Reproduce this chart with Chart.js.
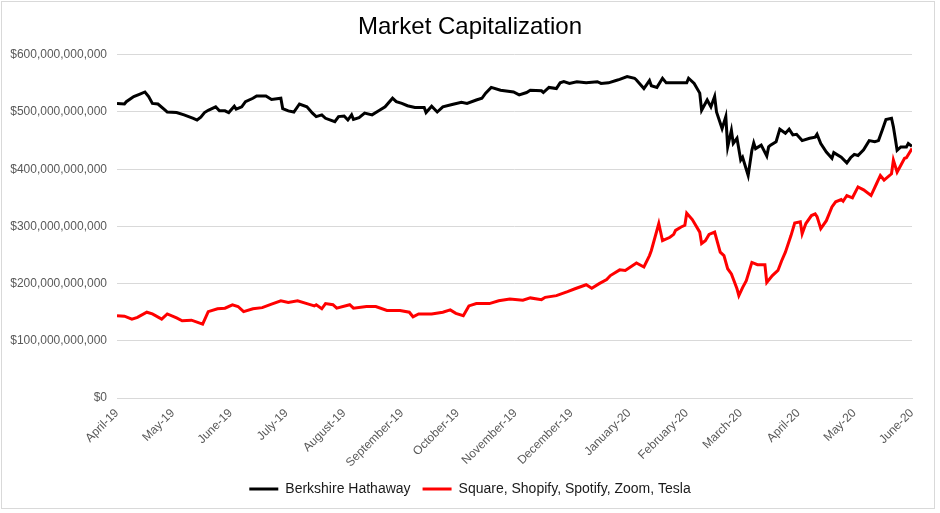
<!DOCTYPE html>
<html>
<head>
<meta charset="utf-8">
<title>Market Capitalization</title>
<script src="https://cdn.jsdelivr.net/npm/chart.js@4.4.1/dist/chart.umd.min.js"></script>
<style>
  html, body { margin: 0; padding: 0; background: #fff; }
  #wrap { position: relative; width: 940px; height: 513px; }
  #frame { position: absolute; left: 1px; top: 1px; width: 932px; height: 506px; border: 1px solid #d9d9d9; pointer-events: none; }
</style>
</head>
<body>
<div id="wrap">
  <canvas id="capChart"></canvas>
  <div id="frame"></div>
</div>
<script>
// month ticks on the x axis
const tickDates = ['2019-04-01', '2019-05-01', '2019-06-01', '2019-07-01', '2019-08-01', '2019-09-01', '2019-10-01',
  '2019-11-01', '2019-12-01', '2020-01-01', '2020-02-01', '2020-03-01', '2020-04-01', '2020-05-01', '2020-06-01'];
const tickLabels = ['April-19', 'May-19', 'June-19', 'July-19', 'August-19', 'September-19', 'October-19',
  'November-19', 'December-19', 'January-20', 'February-20', 'March-20', 'April-20', 'May-20', 'June-20'];

// Berkshire Hathaway market cap, $ billions
const bhDates = ['2019-04-01', '2019-04-05', '2019-04-06', '2019-04-10', '2019-04-13', '2019-04-16', '2019-04-18',
  '2019-04-20', '2019-04-23', '2019-04-27', '2019-04-28', '2019-05-03', '2019-05-07', '2019-05-12', '2019-05-14',
  '2019-05-16', '2019-05-18', '2019-05-20', '2019-05-24', '2019-05-26', '2019-05-29', '2019-05-31', '2019-06-03',
  '2019-06-04', '2019-06-07', '2019-06-09', '2019-06-13', '2019-06-15', '2019-06-20', '2019-06-23', '2019-06-28',
  '2019-06-29', '2019-07-02', '2019-07-05', '2019-07-08', '2019-07-12', '2019-07-15', '2019-07-17', '2019-07-20',
  '2019-07-22', '2019-07-27', '2019-07-29', '2019-08-01', '2019-08-03', '2019-08-05', '2019-08-06', '2019-08-09',
  '2019-08-12', '2019-08-16', '2019-08-20', '2019-08-23', '2019-08-27', '2019-08-29', '2019-09-01', '2019-09-04',
  '2019-09-08', '2019-09-13', '2019-09-14', '2019-09-17', '2019-09-20', '2019-09-23', '2019-09-28', '2019-10-03',
  '2019-10-06', '2019-10-11', '2019-10-14', '2019-10-16', '2019-10-19', '2019-10-24', '2019-10-31', '2019-11-03',
  '2019-11-07', '2019-11-09', '2019-11-15', '2019-11-16', '2019-11-19', '2019-11-23', '2019-11-25', '2019-11-27',
  '2019-11-30', '2019-12-04', '2019-12-09', '2019-12-15', '2019-12-17', '2019-12-21', '2019-12-25', '2019-12-27',
  '2019-12-31', '2020-01-04', '2020-01-05', '2020-01-09', '2020-01-12', '2020-01-13', '2020-01-16', '2020-01-19',
  '2020-01-21', '2020-01-26', '2020-02-01', '2020-02-02', '2020-02-05', '2020-02-08', '2020-02-09', '2020-02-12',
  '2020-02-14', '2020-02-16', '2020-02-17', '2020-02-20', '2020-02-22', '2020-02-23', '2020-02-25', '2020-02-26',
  '2020-02-28', '2020-03-01', '2020-03-02', '2020-03-05', '2020-03-07', '2020-03-08', '2020-03-09', '2020-03-12',
  '2020-03-15', '2020-03-16', '2020-03-17', '2020-03-20', '2020-03-22', '2020-03-25', '2020-03-27', '2020-03-29',
  '2020-03-31', '2020-04-03', '2020-04-07', '2020-04-10', '2020-04-11', '2020-04-13', '2020-04-16', '2020-04-19',
  '2020-04-20', '2020-04-24', '2020-04-27', '2020-04-29', '2020-05-01', '2020-05-03', '2020-05-06', '2020-05-09',
  '2020-05-12', '2020-05-14', '2020-05-16', '2020-05-18', '2020-05-21', '2020-05-22', '2020-05-23', '2020-05-24',
  '2020-05-26', '2020-05-29', '2020-05-30', '2020-06-01'];
const bhCap = [515, 514, 518, 527, 531, 535, 527,
  515, 514, 503, 500, 499, 495, 489, 486,
  491, 499, 503, 509, 502, 502, 499, 510,
  505, 509, 518, 524, 528, 528, 522, 524,
  506, 502, 500, 514, 509, 498, 492, 495,
  489, 483, 492, 493, 486, 495, 487, 490,
  498, 495, 503, 509, 524, 518, 515, 511,
  508, 508, 499, 510, 500, 509, 513, 517,
  515, 521, 524, 533, 543, 538, 535, 530,
  534, 538, 537, 534, 543, 541, 551, 553,
  550, 553, 551, 553, 550, 551, 555, 557,
  562, 559, 556, 541, 555, 546, 543, 559,
  551, 551, 551, 559, 550, 533, 503, 521,
  509, 527, 500, 471, 492, 439, 468, 445,
  454, 416, 421, 389, 433, 446, 436, 442,
  423, 439, 442, 448, 470, 463, 470, 460,
  461, 450, 454, 456, 461, 445, 430, 419,
  429, 421, 411, 420, 426, 424, 434, 450,
  448, 450, 468, 487, 489, 474, 454, 433,
  439, 439, 445, 440];

// Square, Shopify, Spotify, Zoom, Tesla combined market cap, $ billions
const techDates = ['2019-04-01', '2019-04-05', '2019-04-09', '2019-04-12', '2019-04-17', '2019-04-20', '2019-04-25',
  '2019-04-28', '2019-05-03', '2019-05-06', '2019-05-11', '2019-05-17', '2019-05-20', '2019-05-25', '2019-05-29',
  '2019-06-02', '2019-06-05', '2019-06-08', '2019-06-13', '2019-06-18', '2019-06-23', '2019-06-28', '2019-07-02',
  '2019-07-07', '2019-07-12', '2019-07-16', '2019-07-17', '2019-07-20', '2019-07-22', '2019-07-26', '2019-07-28',
  '2019-08-04', '2019-08-06', '2019-08-13', '2019-08-18', '2019-08-24', '2019-08-31', '2019-09-05', '2019-09-07',
  '2019-09-10', '2019-09-17', '2019-09-23', '2019-09-27', '2019-09-30', '2019-10-04', '2019-10-07', '2019-10-11',
  '2019-10-18', '2019-10-23', '2019-10-29', '2019-11-05', '2019-11-09', '2019-11-15', '2019-11-17', '2019-11-23',
  '2019-11-29', '2019-12-03', '2019-12-09', '2019-12-12', '2019-12-16', '2019-12-20', '2019-12-22', '2019-12-27',
  '2019-12-30', '2020-01-05', '2020-01-09', '2020-01-12', '2020-01-13', '2020-01-17', '2020-01-19', '2020-01-23',
  '2020-01-25', '2020-01-26', '2020-01-29', '2020-01-31', '2020-02-01', '2020-02-04', '2020-02-08', '2020-02-09',
  '2020-02-11', '2020-02-13', '2020-02-16', '2020-02-19', '2020-02-21', '2020-02-23', '2020-02-25', '2020-02-28',
  '2020-02-29', '2020-03-02', '2020-03-04', '2020-03-07', '2020-03-10', '2020-03-14', '2020-03-15', '2020-03-18',
  '2020-03-21', '2020-03-23', '2020-03-25', '2020-03-28', '2020-03-30', '2020-04-02', '2020-04-03', '2020-04-05',
  '2020-04-08', '2020-04-10', '2020-04-11', '2020-04-13', '2020-04-16', '2020-04-19', '2020-04-21', '2020-04-24',
  '2020-04-25', '2020-04-27', '2020-04-30', '2020-05-03', '2020-05-06', '2020-05-10', '2020-05-13', '2020-05-15',
  '2020-05-17', '2020-05-21', '2020-05-22', '2020-05-24', '2020-05-26', '2020-05-28', '2020-05-29', '2020-06-01'];
const techCap = [144, 143, 138, 141, 150, 147, 138,
  147, 140, 135, 136, 129, 151, 156, 157,
  163, 160, 151, 156, 158, 164, 170, 167,
  170, 165, 161, 163, 156, 165, 163, 157,
  163, 157, 160, 160, 153, 153, 150, 142,
  147, 147, 150, 154, 148, 144, 161, 165,
  165, 170, 173, 171, 175, 172, 176, 179,
  186, 191, 198, 192, 200, 207, 214, 224,
  223, 236, 229, 249, 258, 305, 275, 281,
  286, 293, 299, 302, 323, 312, 290, 270,
  275, 286, 290, 255, 249, 226, 217, 191,
  179, 193, 205, 237, 233, 233, 202, 214,
  223, 240, 255, 284, 306, 308, 287, 305,
  319, 322, 317, 296, 310, 334, 343, 347,
  344, 354, 350, 369, 364, 354, 375, 389,
  381, 392, 416, 395, 407, 419, 420, 436];

const startDay = Date.UTC(2019, 3, 1);
function dayOffset(s) {
  const p = s.split('-').map(Number);
  return (Date.UTC(p[0], p[1] - 1, p[2]) - startDay) / 86400000;
}
function toPoints(dates, values) {
  return dates.map((d, i) => ({ x: dayOffset(d), y: values[i] * 1e9 }));
}
const tickDays = tickDates.map(dayOffset);

const baseFont = "'Liberation Sans', Arial, sans-serif";
Chart.defaults.font.family = baseFont;

const ctx = document.getElementById('capChart').getContext('2d');
const capChart = new Chart(ctx, {
  type: 'line',
  data: {
    datasets: [
      {
        label: 'Berkshire Hathaway',
        data: toPoints(bhDates, bhCap),
        borderColor: '#000000',
        backgroundColor: '#000000',
        borderWidth: 3,
        pointRadius: 0,
        tension: 0
      },
      {
        label: 'Square, Shopify, Spotify, Zoom, Tesla',
        data: toPoints(techDates, techCap),
        borderColor: '#ff0000',
        backgroundColor: '#ff0000',
        borderWidth: 3,
        pointRadius: 0,
        tension: 0
      }
    ]
  },
  options: {
    responsive: true,
    maintainAspectRatio: false,
    animation: false,
    layout: { padding: { left: 0, right: 0, top: 0, bottom: 7 } },
    plugins: {
      title: {
        display: true,
        text: 'Market Capitalization',
        color: '#000000',
        font: { size: 24, weight: 'normal' },
        padding: { top: 13, bottom: 13 }
      },
      legend: {
        position: 'bottom',
        labels: {
          usePointStyle: true,
          pointStyle: 'line',
          pointStyleWidth: 29,
          padding: 12,
          color: '#1a1a1a',
          font: { size: 14 }
        }
      },
      tooltip: { enabled: false }
    },
    scales: {
      x: {
        type: 'linear',
        min: 0,
        max: tickDays[tickDays.length - 1],
        afterBuildTicks: function(scale) {
          scale.ticks = tickDays.map(v => ({ value: v }));
        },
        afterFit: function(scale) { scale.height = 72; },
        grid: { display: false },
        border: { display: true, color: '#d9d9d9' },
        ticks: {
          autoSkip: false,
          maxRotation: 45,
          minRotation: 45,
          padding: 0,
          color: '#595959',
          font: { size: 12 },
          callback: function(value, index) { return tickLabels[index]; }
        }
      },
      y: {
        min: 0,
        max: 600e9,
        afterFit: function(scale) { scale.width = 117; },
        grid: { color: '#d9d9d9', lineWidth: 1, drawTicks: false },
        border: { display: false },
        ticks: {
          stepSize: 100e9,
          padding: 10,
          color: '#595959',
          font: { size: 12 },
          callback: function(value) { return '$' + value.toLocaleString('en-US'); }
        }
      },
      yRight: {
        position: 'right',
        display: true,
        afterFit: function(scale) { scale.width = 28; },
        grid: { display: false },
        border: { display: false },
        ticks: { display: false }
      }
    }
  }
});
</script>
</body>
</html>
